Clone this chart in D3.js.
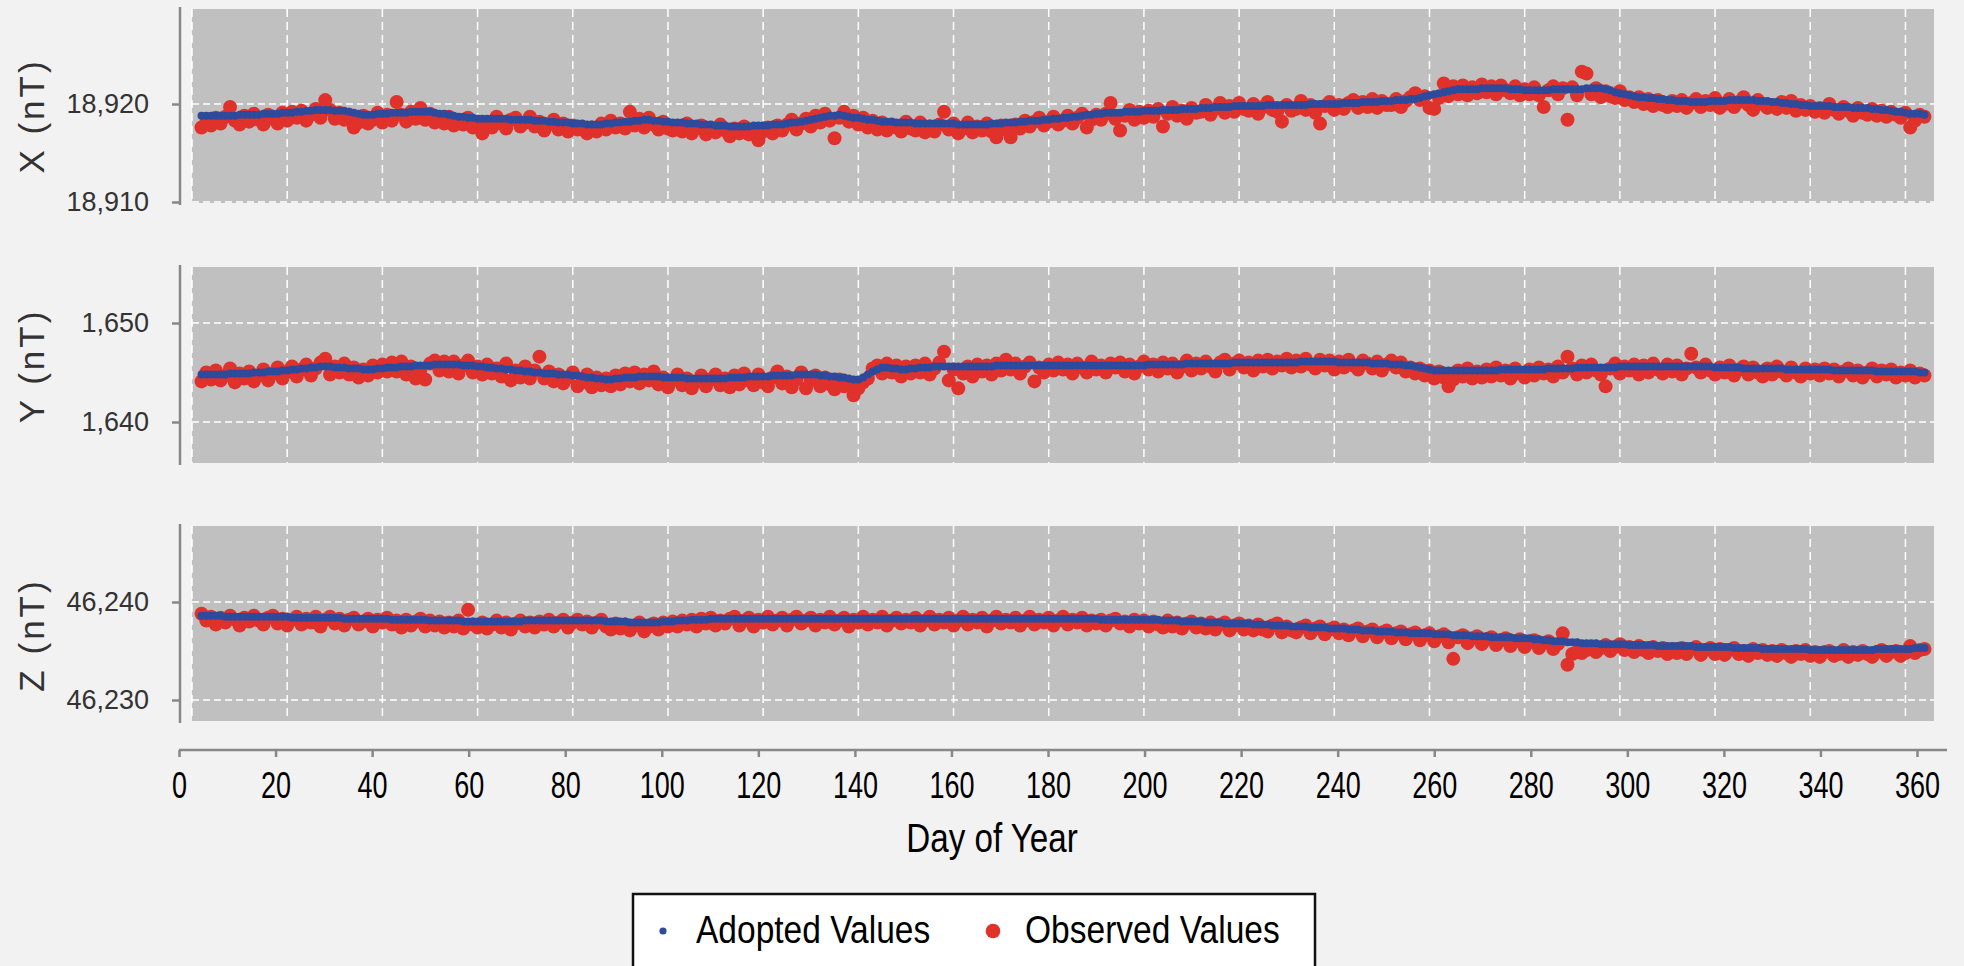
<!DOCTYPE html>
<html>
<head>
<meta charset="utf-8">
<script src="https://cdn.jsdelivr.net/npm/d3@7/dist/d3.min.js"></script>
<style>
  body { margin: 0; background: #f2f2f2; }
  svg { display: block; font-family: "Liberation Sans", Arial, sans-serif; }
</style>
</head>
<body>
<div id="chart"></div>
<script>
// daily values start on this day of year, one value per day
const firstDay = 2;
const dayTicks = [0, 20, 40, 60, 80, 100, 120, 140, 160, 180, 200, 220, 240, 260, 280, 300, 320, 340, 360];

// X component, nT above 18,900
const xBase = 18900;
const xTicks = [18910, 18920];
const xAdopted = [
  18.8,18.8,18.8,18.8,18.8,18.8,18.8,18.8,18.9,18.9,
  18.9,18.9,18.9,19.0,19.0,19.0,19.0,19.1,19.1,19.1,
  19.2,19.2,19.3,19.3,19.4,19.4,19.4,19.4,19.3,19.3,
  19.3,19.2,19.1,19.0,18.9,18.9,18.9,19.0,19.0,19.0,
  19.1,19.1,19.1,19.1,19.2,19.2,19.2,19.2,19.2,19.1,
  19.0,19.0,18.9,18.8,18.7,18.7,18.6,18.6,18.5,18.5,
  18.5,18.5,18.5,18.5,18.5,18.4,18.4,18.4,18.4,18.4,
  18.3,18.3,18.3,18.2,18.2,18.1,18.1,18.1,18.0,18.0,
  18.0,17.9,17.9,17.9,17.9,18.0,18.0,18.1,18.1,18.2,
  18.2,18.3,18.3,18.4,18.4,18.3,18.3,18.2,18.2,18.1,
  18.1,18.1,18.0,18.0,18.0,17.9,17.9,17.9,17.8,17.8,
  17.8,17.7,17.7,17.7,17.7,17.7,17.8,17.8,17.8,17.8,
  17.9,17.9,17.9,18.0,18.1,18.1,18.2,18.3,18.4,18.5,
  18.6,18.7,18.8,18.8,18.9,18.8,18.7,18.6,18.6,18.5,
  18.4,18.4,18.3,18.2,18.2,18.2,18.1,18.1,18.1,18.1,
  18.0,18.0,18.0,18.0,18.0,18.0,18.0,18.0,18.0,17.9,
  17.9,17.9,17.9,17.9,17.9,17.9,18.0,18.0,18.0,18.1,
  18.1,18.1,18.2,18.2,18.3,18.3,18.3,18.4,18.4,18.5,
  18.5,18.6,18.6,18.7,18.7,18.8,18.9,18.9,19.0,19.0,
  19.1,19.1,19.1,19.1,19.2,19.2,19.2,19.2,19.3,19.3,
  19.3,19.3,19.4,19.4,19.4,19.4,19.5,19.5,19.5,19.5,
  19.6,19.6,19.6,19.7,19.7,19.7,19.7,19.8,19.8,19.8,
  19.8,19.8,19.8,19.8,19.9,19.9,19.9,19.9,19.9,19.9,
  19.9,19.9,19.9,20.0,20.0,20.0,20.0,20.0,20.0,20.0,
  20.1,20.1,20.1,20.1,20.2,20.2,20.2,20.2,20.3,20.3,
  20.3,20.4,20.4,20.4,20.5,20.5,20.6,20.8,20.9,21.0,
  21.1,21.2,21.3,21.4,21.5,21.5,21.5,21.5,21.5,21.6,
  21.6,21.6,21.6,21.6,21.6,21.5,21.5,21.5,21.4,21.4,
  21.4,21.4,21.4,21.4,21.5,21.5,21.5,21.5,21.5,21.5,
  21.5,21.6,21.6,21.6,21.6,21.5,21.4,21.2,21.1,21.0,
  20.9,20.8,20.7,20.7,20.6,20.6,20.5,20.5,20.4,20.4,
  20.3,20.3,20.3,20.2,20.2,20.2,20.2,20.3,20.3,20.3,
  20.3,20.4,20.4,20.4,20.4,20.4,20.4,20.3,20.3,20.3,
  20.2,20.2,20.1,20.1,20.0,20.0,19.9,19.9,19.8,19.8,
  19.8,19.8,19.8,19.7,19.7,19.7,19.7,19.6,19.6,19.6,
  19.6,19.5,19.5,19.4,19.4,19.3,19.2,19.2,19.1,19.0,
  19.0,19.0,18.9
];
const xObserved = [
  17.6,18.1,17.8,18.6,18.0,18.7,19.7,18.3,17.9,18.8,
  18.2,19.0,18.4,17.9,18.9,18.5,18.0,19.1,18.3,19.2,
  18.6,19.3,18.3,18.9,19.5,18.6,20.4,19.4,18.5,19.1,
  18.4,18.9,17.6,18.1,18.8,18.0,18.4,19.1,18.1,18.9,
  18.3,20.2,18.9,18.2,19.2,18.5,19.6,18.4,19.0,18.1,
  18.6,18.0,18.7,17.8,18.3,17.9,18.6,17.6,18.2,17.0,
  17.9,17.6,18.7,18.0,17.5,18.4,18.6,17.7,18.1,18.7,
  17.7,18.2,17.3,17.9,18.4,17.4,18.0,17.2,17.8,17.4,
  17.6,17.0,17.6,17.2,18.0,17.4,18.3,17.6,18.0,17.5,
  19.2,17.8,18.5,17.6,18.6,17.9,17.4,18.2,17.5,17.3,
  17.7,17.2,18.0,17.0,17.5,17.8,16.9,17.4,17.1,17.9,
  17.3,16.7,17.5,17.0,17.7,16.9,17.4,16.3,17.2,17.6,
  17.0,17.8,17.3,17.9,18.4,17.4,18.0,18.5,17.7,18.8,
  18.1,19.0,18.3,16.5,18.6,19.2,18.2,18.8,17.9,18.6,
  17.6,18.3,17.4,18.1,17.3,17.9,17.6,17.2,18.2,17.5,
  17.3,18.1,17.1,17.7,17.2,17.9,19.2,17.4,18.0,17.0,
  17.5,18.1,17.1,17.7,17.3,18.0,17.2,16.6,17.8,17.4,
  16.6,17.9,17.5,18.3,17.7,18.2,18.6,17.8,18.2,18.7,
  17.9,18.3,18.8,18.0,18.6,19.0,17.6,18.4,18.9,18.4,
  19.0,20.1,18.5,17.3,18.8,19.4,18.4,19.2,18.6,19.3,
  18.7,19.5,17.7,19.0,19.7,18.8,19.3,18.5,19.6,19.1,
  19.2,19.9,18.9,19.5,20.1,19.1,19.8,19.2,20.1,19.5,
  19.3,20.0,19.0,19.7,20.2,19.4,19.2,18.2,19.9,19.3,
  19.5,20.3,19.4,19.9,19.1,18.0,19.8,20.2,19.4,19.9,
  19.5,20.1,20.4,19.6,20.2,19.7,20.5,19.6,20.3,19.9,
  19.9,20.5,19.7,20.3,20.7,21.1,20.4,20.8,19.6,19.5,
  20.6,22.1,20.8,21.8,21.0,21.9,20.9,21.7,21.1,22.0,
  21.2,21.8,21.0,21.9,21.4,21.1,21.8,20.9,21.5,21.0,
  21.7,20.9,19.7,21.4,21.8,21.0,21.6,18.4,21.7,20.9,
  23.3,23.1,21.0,21.6,20.7,21.3,20.8,20.6,21.3,20.4,
  20.7,20.2,20.7,20.0,20.5,19.8,20.4,19.9,19.7,20.3,
  19.8,20.4,19.6,20.1,20.5,19.7,20.3,19.9,20.6,19.6,
  20.0,20.5,19.7,20.2,20.7,19.9,19.4,20.4,20.0,19.6,
  19.9,19.5,20.2,19.6,20.3,19.3,19.9,19.4,19.8,19.2,
  19.6,19.1,20.0,19.4,19.0,19.7,19.3,18.8,19.6,19.1,
  18.9,19.5,18.8,19.3,18.7,19.2,18.9,18.6,19.1,17.6,
  18.3,18.9,18.7
];

// Y component, nT above 1,640
const yBase = 1640;
const yTicks = [1640, 1650];
const yAdopted = [
  4.8,4.8,4.8,4.8,4.8,4.8,4.9,4.9,4.9,4.9,
  4.9,5.0,5.0,5.0,5.1,5.1,5.1,5.2,5.2,5.3,
  5.3,5.4,5.4,5.5,5.5,5.6,5.6,5.6,5.5,5.5,
  5.5,5.4,5.4,5.4,5.3,5.3,5.3,5.4,5.4,5.5,
  5.5,5.5,5.6,5.6,5.6,5.7,5.7,5.7,5.7,5.8,
  5.8,5.8,5.8,5.8,5.8,5.7,5.7,5.7,5.6,5.6,
  5.5,5.5,5.4,5.4,5.3,5.3,5.2,5.2,5.1,5.1,
  5.0,5.0,4.9,4.9,4.9,4.8,4.8,4.8,4.7,4.7,
  4.6,4.5,4.5,4.4,4.4,4.3,4.3,4.4,4.4,4.5,
  4.5,4.5,4.6,4.6,4.6,4.6,4.6,4.5,4.5,4.5,
  4.5,4.5,4.4,4.4,4.4,4.4,4.4,4.4,4.4,4.4,
  4.4,4.5,4.5,4.5,4.5,4.6,4.6,4.6,4.6,4.6,
  4.7,4.7,4.7,4.7,4.7,4.8,4.8,4.8,4.8,4.8,
  4.7,4.7,4.6,4.6,4.5,4.5,4.4,4.3,4.3,4.5,
  4.8,5.1,5.3,5.5,5.5,5.4,5.4,5.3,5.3,5.4,
  5.4,5.5,5.5,5.5,5.6,5.6,5.6,5.6,5.6,5.6,
  5.6,5.6,5.6,5.6,5.6,5.6,5.6,5.7,5.7,5.7,
  5.7,5.7,5.7,5.7,5.7,5.7,5.7,5.7,5.7,5.7,
  5.7,5.7,5.7,5.7,5.7,5.7,5.7,5.7,5.7,5.7,
  5.7,5.7,5.7,5.7,5.7,5.7,5.7,5.7,5.7,5.8,
  5.8,5.8,5.8,5.8,5.8,5.8,5.8,5.9,5.9,5.9,
  5.9,5.9,5.9,5.9,5.9,5.9,5.9,6.0,6.0,6.0,
  6.0,6.0,6.0,6.0,6.0,6.0,6.0,6.0,6.0,6.0,
  6.0,6.1,6.1,6.1,6.1,6.1,6.1,6.1,6.1,6.0,
  6.0,6.0,6.0,6.0,6.0,6.0,5.9,5.9,5.9,5.9,
  5.8,5.8,5.8,5.7,5.7,5.6,5.5,5.4,5.3,5.2,
  5.2,5.2,5.2,5.2,5.2,5.2,5.2,5.2,5.2,5.2,
  5.2,5.2,5.2,5.3,5.3,5.3,5.3,5.3,5.3,5.3,
  5.3,5.3,5.3,5.4,5.4,5.4,5.4,5.4,5.4,5.5,
  5.5,5.5,5.5,5.5,5.5,5.5,5.5,5.5,5.6,5.6,
  5.6,5.6,5.6,5.6,5.6,5.6,5.6,5.6,5.6,5.6,
  5.6,5.6,5.6,5.6,5.6,5.6,5.6,5.6,5.5,5.5,
  5.5,5.5,5.5,5.5,5.4,5.4,5.4,5.4,5.4,5.4,
  5.4,5.4,5.4,5.3,5.3,5.3,5.3,5.3,5.3,5.3,
  5.3,5.3,5.3,5.2,5.2,5.2,5.2,5.2,5.2,5.2,
  5.2,5.2,5.1,5.1,5.1,5.1,5.1,5.1,5.1,5.1,
  5.1,5.0,5.0
];
const yObserved = [
  4.1,5.0,4.3,5.2,4.2,4.7,5.4,4.0,4.9,4.4,
  5.1,4.1,4.7,5.3,4.2,4.9,5.5,4.4,5.1,5.6,
  4.6,5.3,5.8,4.7,5.4,6.0,6.4,4.8,5.6,5.0,
  5.9,4.8,5.5,4.5,5.3,4.7,5.7,5.0,5.8,5.1,
  6.0,5.1,6.1,4.8,5.6,4.4,5.3,4.3,5.9,6.2,
  5.2,6.1,5.1,6.1,4.9,5.7,6.2,5.0,5.6,4.8,
  5.8,4.9,5.4,4.6,5.9,4.2,5.2,4.5,5.6,4.4,
  5.2,6.6,4.4,5.1,4.1,4.8,3.9,4.5,5.0,3.6,
  4.0,4.8,3.5,4.5,3.7,4.4,3.6,4.7,3.8,4.9,
  4.1,5.0,3.9,4.8,4.2,5.1,3.8,4.5,3.5,4.2,
  4.8,3.7,4.4,3.4,4.1,4.7,3.6,4.3,4.8,3.7,
  4.4,3.5,4.7,3.8,4.9,4.2,3.7,4.8,4.0,3.6,
  4.5,5.1,3.9,4.6,3.5,4.3,5.0,3.4,4.2,4.7,
  3.6,4.5,3.8,3.3,4.3,3.6,4.0,2.7,3.4,4.0,
  4.4,5.4,5.7,4.9,5.9,5.0,5.7,4.6,5.6,4.9,
  5.7,5.0,5.9,4.8,5.4,6.0,7.1,4.2,5.3,3.4,
  4.9,5.6,4.6,5.8,5.1,5.7,4.8,5.9,5.2,6.3,
  5.3,5.9,4.9,5.6,6.0,4.1,5.5,5.0,5.8,5.2,
  6.0,5.3,5.8,4.9,5.9,5.5,5.0,6.1,5.3,5.7,
  5.0,5.9,5.5,6.0,5.1,5.8,4.9,5.6,6.1,5.3,
  5.8,5.1,6.0,5.4,5.9,5.0,5.6,6.2,5.2,5.9,
  5.4,6.1,5.6,5.1,6.0,6.3,5.3,5.9,6.2,5.5,
  6.0,5.2,6.2,5.6,6.3,5.4,6.1,5.7,6.4,5.5,
  6.2,5.6,6.4,5.8,5.4,6.3,5.7,6.2,5.3,6.1,
  5.5,6.3,5.7,5.3,6.2,5.9,5.4,6.1,5.2,5.8,
  6.2,5.5,6.0,5.1,5.5,4.9,5.4,4.7,5.2,4.4,
  5.1,4.5,3.6,4.3,5.2,4.6,5.4,4.4,5.1,4.5,
  5.3,4.6,5.5,4.7,5.2,4.4,5.4,4.9,4.5,5.3,
  4.7,5.5,4.9,5.3,4.6,5.6,5.0,6.6,5.4,4.8,
  5.7,5.0,5.8,5.2,4.8,3.6,5.4,5.9,4.9,5.6,
  5.2,5.8,4.8,5.7,5.0,5.9,5.3,4.9,5.8,5.1,
  5.7,4.8,5.4,6.9,5.5,5.0,5.8,5.2,4.8,5.5,
  5.0,5.7,4.7,5.3,5.6,4.8,5.5,5.0,4.6,5.4,
  4.8,5.6,5.1,4.7,5.5,5.0,4.6,5.4,4.9,5.3,
  4.7,5.4,4.9,5.3,4.6,5.1,5.4,4.7,5.2,4.5,
  5.0,5.4,4.6,5.2,4.8,5.3,4.5,5.0,4.7,5.2,
  4.5,4.9,4.7
];

// Z component, nT above 46,230
const zBase = 46230;
const zTicks = [46230, 46240];
const zAdopted = [
  8.6,8.6,8.6,8.6,8.6,8.5,8.5,8.5,8.5,8.5,
  8.5,8.5,8.5,8.5,8.5,8.5,8.5,8.5,8.5,8.4,
  8.4,8.4,8.4,8.4,8.4,8.4,8.4,8.4,8.4,8.4,
  8.3,8.3,8.3,8.3,8.3,8.3,8.3,8.3,8.3,8.3,
  8.2,8.2,8.2,8.2,8.2,8.2,8.2,8.2,8.1,8.1,
  8.1,8.1,8.1,8.1,8.1,8.0,8.0,8.0,8.0,8.0,
  8.0,8.0,8.0,8.0,8.0,8.0,8.0,8.0,8.1,8.1,
  8.1,8.1,8.1,8.1,8.1,8.1,8.1,8.1,8.1,8.1,
  8.1,8.1,8.1,8.1,8.1,8.0,8.0,8.0,8.0,8.0,
  7.9,7.9,7.9,7.9,7.9,7.9,7.9,8.0,8.0,8.0,
  8.1,8.1,8.1,8.2,8.2,8.2,8.2,8.3,8.3,8.3,
  8.3,8.3,8.3,8.3,8.3,8.3,8.3,8.3,8.3,8.3,
  8.3,8.3,8.3,8.3,8.3,8.3,8.3,8.3,8.3,8.3,
  8.3,8.3,8.3,8.3,8.3,8.3,8.3,8.3,8.3,8.3,
  8.3,8.3,8.3,8.3,8.3,8.3,8.3,8.3,8.3,8.3,
  8.3,8.3,8.3,8.3,8.3,8.3,8.3,8.3,8.3,8.3,
  8.3,8.3,8.3,8.3,8.3,8.3,8.3,8.3,8.3,8.3,
  8.3,8.3,8.3,8.3,8.3,8.3,8.3,8.3,8.3,8.3,
  8.3,8.3,8.3,8.3,8.3,8.3,8.3,8.3,8.3,8.2,
  8.2,8.2,8.2,8.2,8.2,8.2,8.2,8.2,8.2,8.2,
  8.2,8.2,8.1,8.1,8.1,8.1,8.0,8.0,8.0,8.0,
  8.0,7.9,7.9,7.9,7.9,7.8,7.8,7.8,7.8,7.8,
  7.8,7.7,7.7,7.7,7.7,7.6,7.6,7.6,7.6,7.5,
  7.5,7.5,7.5,7.4,7.4,7.4,7.4,7.3,7.3,7.3,
  7.3,7.2,7.2,7.2,7.1,7.1,7.1,7.0,7.0,7.0,
  7.0,6.9,6.9,6.9,6.8,6.8,6.8,6.8,6.8,6.7,
  6.7,6.7,6.7,6.6,6.6,6.6,6.6,6.5,6.5,6.5,
  6.5,6.4,6.4,6.4,6.4,6.4,6.3,6.3,6.3,6.3,
  6.2,6.2,6.1,6.1,6.0,6.0,6.0,5.9,5.9,5.9,
  5.8,5.8,5.8,5.8,5.7,5.7,5.7,5.7,5.7,5.7,
  5.6,5.6,5.6,5.6,5.6,5.6,5.5,5.5,5.5,5.5,
  5.5,5.5,5.5,5.5,5.4,5.4,5.4,5.4,5.4,5.4,
  5.4,5.4,5.3,5.3,5.3,5.3,5.3,5.3,5.2,5.2,
  5.2,5.2,5.2,5.2,5.2,5.2,5.2,5.2,5.1,5.1,
  5.1,5.1,5.1,5.1,5.1,5.1,5.1,5.1,5.1,5.1,
  5.1,5.1,5.2,5.2,5.2,5.2,5.2,5.2,5.2,5.2,
  5.3,5.3,5.3
];
const zObserved = [
  8.8,8.1,8.5,7.7,8.4,7.9,8.6,8.2,7.6,8.4,
  8.0,8.6,8.1,7.7,8.4,8.6,7.8,8.3,7.6,8.2,
  8.5,7.7,8.3,7.9,8.5,7.5,8.2,8.5,7.8,8.3,
  7.6,8.2,8.4,7.7,8.0,8.3,7.5,8.2,7.9,8.4,
  7.7,8.1,7.4,8.2,7.6,8.0,8.3,7.5,8.1,7.6,
  8.0,7.4,7.9,7.5,8.1,7.3,9.2,7.7,7.4,7.9,
  7.3,7.7,8.1,7.4,7.9,7.2,7.8,8.1,7.5,7.9,
  7.4,8.0,7.7,8.2,7.5,7.9,8.2,7.4,7.9,8.2,
  7.7,8.0,7.4,7.9,8.2,7.5,7.2,7.8,7.3,7.7,
  7.1,7.6,7.9,7.0,7.5,7.8,7.2,7.9,7.5,8.0,
  7.5,8.1,7.7,8.2,7.5,8.3,7.8,8.4,7.6,8.1,
  7.8,8.3,8.5,7.6,8.1,8.4,7.5,8.2,7.9,8.5,
  7.7,8.1,8.4,7.6,8.2,8.5,7.8,8.1,8.4,7.6,
  8.2,7.9,8.5,7.7,8.1,8.4,7.5,8.2,7.9,8.5,
  7.7,8.2,7.9,8.5,7.6,8.1,8.4,7.8,8.2,7.9,
  8.4,7.6,8.1,8.5,7.7,8.2,7.9,8.4,7.6,8.1,
  8.5,7.7,8.2,7.9,8.4,7.5,8.1,8.5,7.8,8.2,
  7.9,8.4,7.6,8.1,8.5,7.7,8.2,7.9,8.4,7.6,
  8.1,8.5,7.7,8.2,7.9,8.4,7.6,8.1,7.8,8.2,
  7.6,8.1,8.3,7.8,8.0,7.5,8.2,7.8,8.1,7.5,
  8.0,7.7,7.4,8.1,7.5,7.9,7.3,7.8,8.0,7.4,
  7.8,7.3,7.9,7.2,7.7,7.9,7.1,7.6,7.8,7.2,
  7.6,7.1,7.7,7.2,7.0,7.6,7.8,6.9,7.5,7.1,
  6.9,7.4,7.6,6.8,7.3,7.5,6.7,7.2,7.4,6.8,
  7.2,6.6,7.1,7.3,6.5,7.0,7.2,6.4,6.9,7.1,
  6.3,6.8,7.0,6.2,6.7,6.9,6.1,6.6,6.8,6.0,
  6.5,6.7,5.9,4.2,6.4,6.6,5.8,6.3,6.5,5.7,
  6.2,6.4,5.6,6.1,6.3,5.5,6.0,6.2,5.4,5.9,
  6.1,5.3,5.8,6.0,5.2,5.7,6.8,3.6,4.7,4.9,
  4.8,5.1,5.4,4.9,5.3,5.6,5.0,5.4,5.7,5.1,
  5.4,4.9,5.5,5.1,4.8,5.4,5.0,5.3,4.7,5.2,
  4.8,5.3,4.7,5.2,5.4,4.6,5.1,5.3,4.7,5.2,
  4.6,5.1,5.3,4.7,5.0,4.5,5.2,4.8,5.1,4.6,
  5.0,4.5,5.1,4.8,4.4,5.0,4.7,5.1,4.5,4.9,
  4.4,4.9,5.0,4.5,4.7,5.1,4.4,4.9,4.6,5.0,
  4.7,4.4,4.9,5.1,4.5,4.9,5.0,4.5,4.8,5.5,
  4.8,5.1,5.2
];

const legendLabels = ["Adopted Values", "Observed Values"];

// layout
const width = 1964;
const height = 966;
const plotLeft = 192, plotRight = 1934;
const axisX = 180;
const red = "#e0312b";
const blue = "#2d4a9c";

const panels = [
  { title: "X (nT)", base: xBase, ticks: xTicks, adopted: xAdopted, observed: xObserved, top: 9, bottom: 203, labelY: 116 },
  { title: "Y (nT)", base: yBase, ticks: yTicks, adopted: yAdopted, observed: yObserved, top: 267, bottom: 463, labelY: 366 },
  { title: "Z (nT)", base: zBase, ticks: zTicks, adopted: zAdopted, observed: zObserved, top: 526, bottom: 721, labelY: 635 }
];
// pixel position of the lower and upper tick of each panel
const tickPx = [[202, 104], [422, 323], [700, 602]];

const svg = d3.select("#chart")
  .append("svg")
  .attr("width", width)
  .attr("height", height);

svg.append("rect")
  .attr("width", width)
  .attr("height", height)
  .attr("fill", "#f2f2f2");

// x scale used inside the panels
const x = d3.scaleLinear().domain([0, 366]).range([plotLeft, plotRight]);
// x scale of the shared axis at the bottom
const xAxisScale = d3.scaleLinear().domain([0, 360]).range([179, 1917]);

panels.forEach((p, k) => {
  const y = d3.scaleLinear()
    .domain(p.ticks)
    .range(tickPx[k]);

  const g = svg.append("g");

  g.append("rect")
    .attr("x", plotLeft)
    .attr("y", p.top)
    .attr("width", plotRight - plotLeft)
    .attr("height", p.bottom - p.top)
    .attr("fill", "#c0c0c0");

  // dashed white grid
  g.selectAll(".vgrid")
    .data(dayTicks)
    .join("line")
    .attr("x1", d => x(d)).attr("x2", d => x(d))
    .attr("y1", p.top).attr("y2", p.bottom)
    .attr("stroke", "#fff")
    .attr("stroke-width", 1.5)
    .attr("stroke-dasharray", "8,5");

  g.selectAll(".hgrid")
    .data(p.ticks)
    .join("line")
    .attr("x1", plotLeft).attr("x2", plotRight)
    .attr("y1", d => y(d)).attr("y2", d => y(d))
    .attr("stroke", "#fff")
    .attr("stroke-width", 1.5)
    .attr("stroke-dasharray", "7,4");

  // observed values first, adopted on top
  g.append("g")
    .selectAll("circle")
    .data(p.observed)
    .join("circle")
    .attr("cx", (d, i) => x(firstDay + i))
    .attr("cy", d => y(p.base + d))
    .attr("r", 7)
    .attr("fill", red);

  g.append("g")
    .selectAll("circle")
    .data(p.adopted)
    .join("circle")
    .attr("cx", (d, i) => x(firstDay + i))
    .attr("cy", d => y(p.base + d))
    .attr("r", 4)
    .attr("fill", blue);

  // y axis
  const yAxis = svg.append("g")
    .attr("transform", `translate(${axisX},0)`)
    .call(d3.axisLeft(y).tickValues(p.ticks).tickFormat(d3.format(",")).tickSize(8).tickSizeOuter(0).tickPadding(23));
  yAxis.select(".domain").remove();
  yAxis.append("line")
    .attr("y1", p.top - 2).attr("y2", p.bottom + 2)
    .attr("stroke", "#888").attr("stroke-width", 2.5);
  yAxis.selectAll(".tick line").attr("stroke", "#888").attr("stroke-width", 2.5);
  yAxis.selectAll(".tick text")
    .attr("fill", "#333")
    .style("font-size", "27px")
    .style("font-family", "'Liberation Sans', Arial, sans-serif");

  svg.append("text")
    .attr("transform", `translate(31,${p.labelY}) rotate(-90)`)
    .attr("text-anchor", "middle")
    .attr("dominant-baseline", "central")
    .attr("fill", "#333")
    .style("font-size", "35px")
    .style("letter-spacing", "3px")
    .text(p.title);
});

// shared x axis
const xAxis = svg.append("g")
  .attr("transform", "translate(0,750)")
  .call(d3.axisBottom(xAxisScale).tickValues(dayTicks).tickSize(7).tickPadding(15));
xAxis.select(".domain").remove();
xAxis.append("line")
  .attr("x1", 179).attr("x2", 1947)
  .attr("stroke", "#888").attr("stroke-width", 2.5);
xAxis.selectAll(".tick line").attr("stroke", "#888").attr("stroke-width", 2.5);
xAxis.selectAll(".tick text")
  .attr("fill", "#000")
  .attr("transform", "scale(0.75,1)")
  .style("font-size", "36px")
  .style("font-family", "'Liberation Sans', Arial, sans-serif");

svg.append("text")
  .attr("transform", "translate(992,852) scale(0.83,1)")
  .attr("text-anchor", "middle")
  .attr("fill", "#000")
  .style("font-size", "40px")
  .text("Day of Year");

// legend
const legend = svg.append("g");
legend.append("rect")
  .attr("x", 633).attr("y", 894)
  .attr("width", 682).attr("height", 110)
  .attr("fill", "#fff")
  .attr("stroke", "#111")
  .attr("stroke-width", 2.5);
legend.append("circle").attr("cx", 663).attr("cy", 931).attr("r", 3.6).attr("fill", blue);
legend.append("circle").attr("cx", 993).attr("cy", 931).attr("r", 7.3).attr("fill", red);
legend.selectAll(".leg-text")
  .data(legendLabels)
  .join("text")
  .attr("transform", (d, i) => `translate(${i === 0 ? 696 : 1025},943) scale(0.86,1)`)
  .attr("fill", "#000")
  .style("font-size", "39px")
  .text(d => d);
</script>
</body>
</html>
